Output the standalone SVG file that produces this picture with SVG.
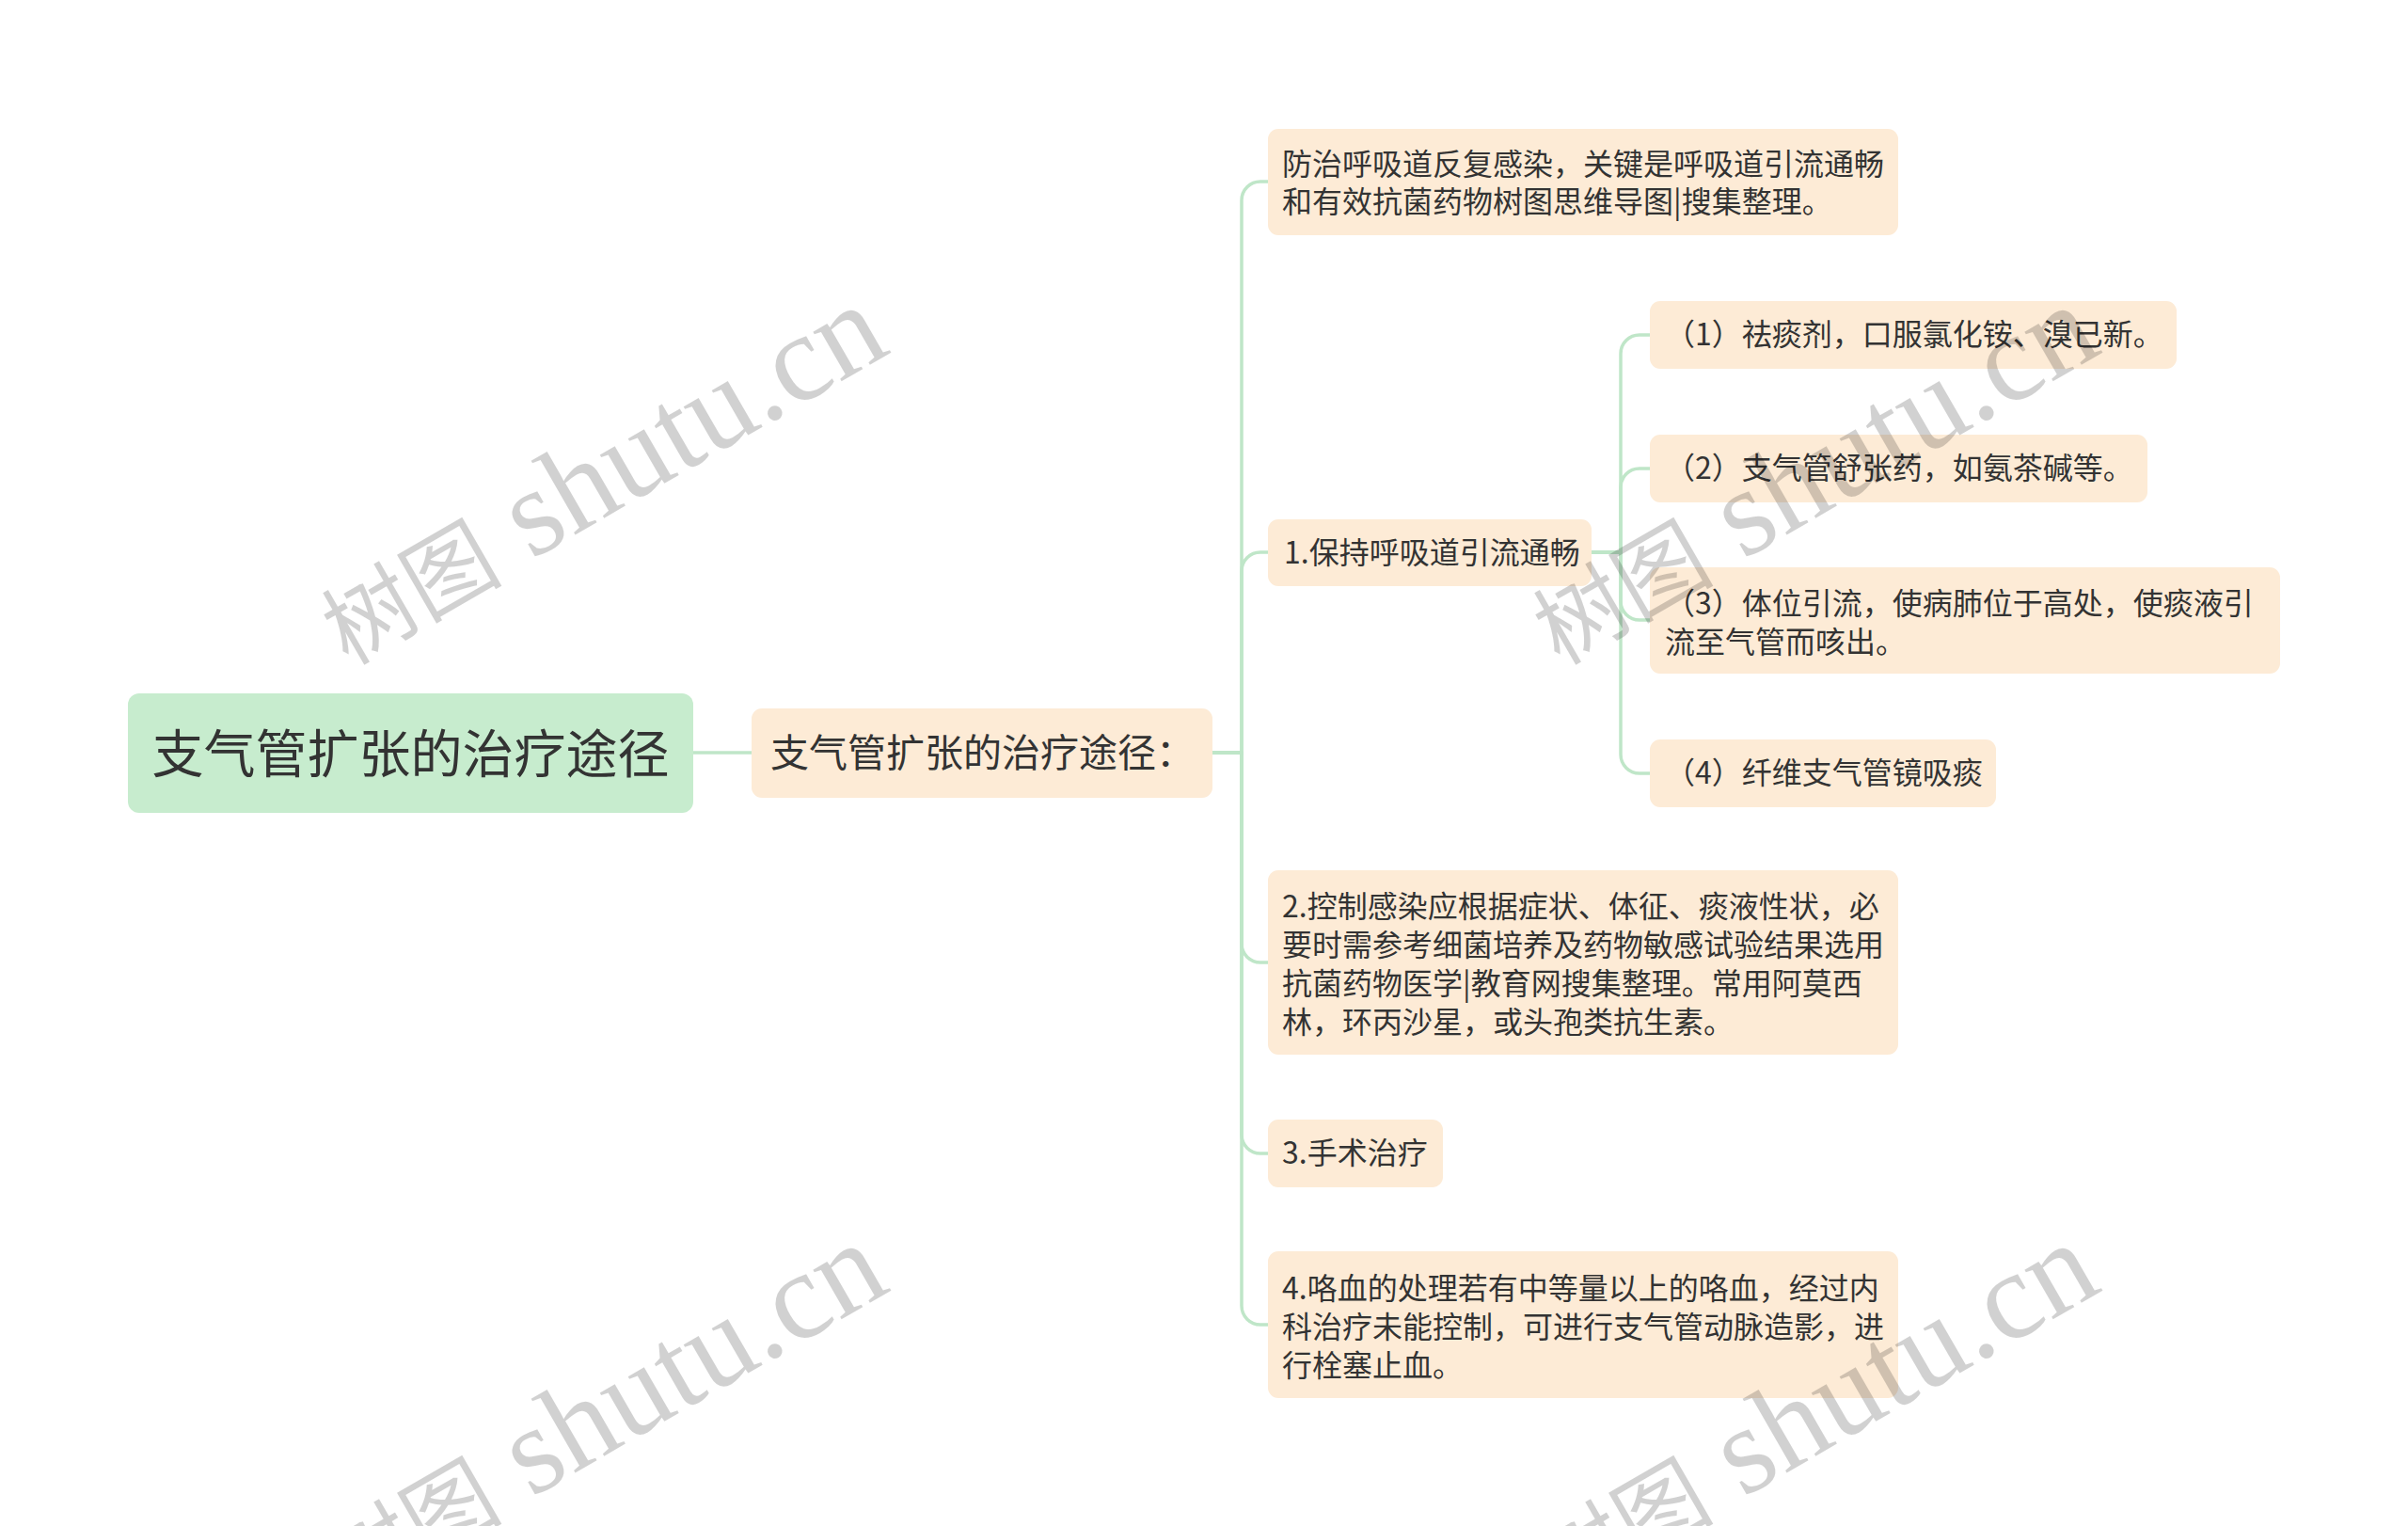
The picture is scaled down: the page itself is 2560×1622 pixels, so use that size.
<svg xmlns="http://www.w3.org/2000/svg" width="2560" height="1622" viewBox="0 0 2560 1622">
<style>
.bg{fill:#ffffff}
.root{fill:#c7ecce}
.node{fill:#fdebd6}
.t{font-family:"Noto Sans CJK SC","Noto Sans",sans-serif;fill:#333333}
.t32{font-size:32px}
.t40{font-size:41px}
.t54{font-size:55px}
.conn path{fill:none;stroke:#bfe6c8;stroke-width:3.5}
.wm{fill:#000000;fill-opacity:0.18}
.wmc{font-family:"Noto Sans CJK SC",sans-serif;font-size:96px}
.wml{font-family:"Liberation Serif",serif;font-size:132px}
</style>
<rect class="bg" x="0" y="0" width="2560" height="1622"/>
<g id="connectors" class="conn">
<path d="M737,800 H799"/>
<path d="M1289,800 H1320 V213 A20,20 0 0 1 1340,193 H1348"/>
<path d="M1289,800 H1320 V607 A20,20 0 0 1 1340,587 H1348"/>
<path d="M1289,800 H1320 V1003 A20,20 0 0 0 1340,1023 H1348"/>
<path d="M1289,800 H1320 V1206 A20,20 0 0 0 1340,1226 H1348"/>
<path d="M1289,800 H1320 V1388 A20,20 0 0 0 1340,1408 H1348"/>
<path d="M1692,587 H1723 V376 A20,20 0 0 1 1743,356 H1754"/>
<path d="M1692,587 H1723 V518 A20,20 0 0 1 1743,498 H1754"/>
<path d="M1692,587 H1723 V639 A20,20 0 0 0 1743,659 H1754"/>
<path d="M1692,587 H1723 V802 A20,20 0 0 0 1743,822 H1754"/>
</g>
<g id="root">
<rect class="root" x="136" y="737" width="601" height="127" rx="12"/>
<text class="t t54" x="436.5" y="821" text-anchor="middle">支气管扩张的治疗途径</text>
</g>
<g id="n-main">
<rect class="node" x="799" y="753" width="490" height="95" rx="11"/>
<text class="t t40" x="819" y="815">支气管扩张的治疗途径：</text>
</g>
<g id="n-a">
<rect class="node" x="1348" y="137" width="670" height="113" rx="11"/>
<text class="t t32" x="1363" y="186">防治呼吸道反复感染，关键是呼吸道引流通畅</text>
<text class="t t32" x="1363" y="226">和有效抗菌药物树图思维导图|搜集整理。</text>
</g>
<g id="n-b">
<rect class="node" x="1348" y="552" width="344" height="71" rx="11"/>
<text class="t t32" x="1365" y="599">1.保持呼吸道引流通畅</text>
</g>
<g id="n-c1">
<rect class="node" x="1754" y="320" width="560" height="72" rx="11"/>
<text class="t t32" x="1770" y="367">（1）祛痰剂，口服氯化铵、溴已新。</text>
</g>
<g id="n-c2">
<rect class="node" x="1754" y="462" width="529" height="72" rx="11"/>
<text class="t t32" x="1770" y="509">（2）支气管舒张药，如氨茶碱等。</text>
</g>
<g id="n-c3">
<rect class="node" x="1754" y="603" width="670" height="113" rx="11"/>
<text class="t t32" x="1770" y="653">（3）体位引流，使病肺位于高处，使痰液引</text>
<text class="t t32" x="1770" y="694">流至气管而咳出。</text>
</g>
<g id="n-c4">
<rect class="node" x="1754" y="786" width="368" height="72" rx="11"/>
<text class="t t32" x="1770" y="833">（4）纤维支气管镜吸痰</text>
</g>
<g id="n-d">
<rect class="node" x="1348" y="925" width="670" height="196" rx="11"/>
<text class="t t32" x="1363" y="975">2.控制感染应根据症状、体征、痰液性状，必</text>
<text class="t t32" x="1363" y="1016">要时需参考细菌培养及药物敏感试验结果选用</text>
<text class="t t32" x="1363" y="1057">抗菌药物医学|教育网搜集整理。常用阿莫西</text>
<text class="t t32" x="1363" y="1098">林，环丙沙星，或头孢类抗生素。</text>
</g>
<g id="n-e">
<rect class="node" x="1348" y="1190" width="186" height="72" rx="11"/>
<text class="t t32" x="1363" y="1237">3.手术治疗</text>
</g>
<g id="n-f">
<rect class="node" x="1348" y="1330" width="670" height="156" rx="11"/>
<text class="t t32" x="1363" y="1381">4.咯血的处理若有中等量以上的咯血，经过内</text>
<text class="t t32" x="1363" y="1422">科治疗未能控制，可进行支气管动脉造影，进</text>
<text class="t t32" x="1363" y="1463">行栓塞止血。</text>
</g>
<g id="watermarks" class="wm">
<text transform="translate(370,708) rotate(-30)"><tspan class="wmc">树图</tspan><tspan class="wml"> shutu.cn</tspan></text>
<text transform="translate(1658,708) rotate(-30)"><tspan class="wmc">树图</tspan><tspan class="wml"> shutu.cn</tspan></text>
<text transform="translate(370,1705) rotate(-30)"><tspan class="wmc">树图</tspan><tspan class="wml"> shutu.cn</tspan></text>
<text transform="translate(1658,1705) rotate(-30)"><tspan class="wmc">树图</tspan><tspan class="wml"> shutu.cn</tspan></text>
</g>
</svg>
